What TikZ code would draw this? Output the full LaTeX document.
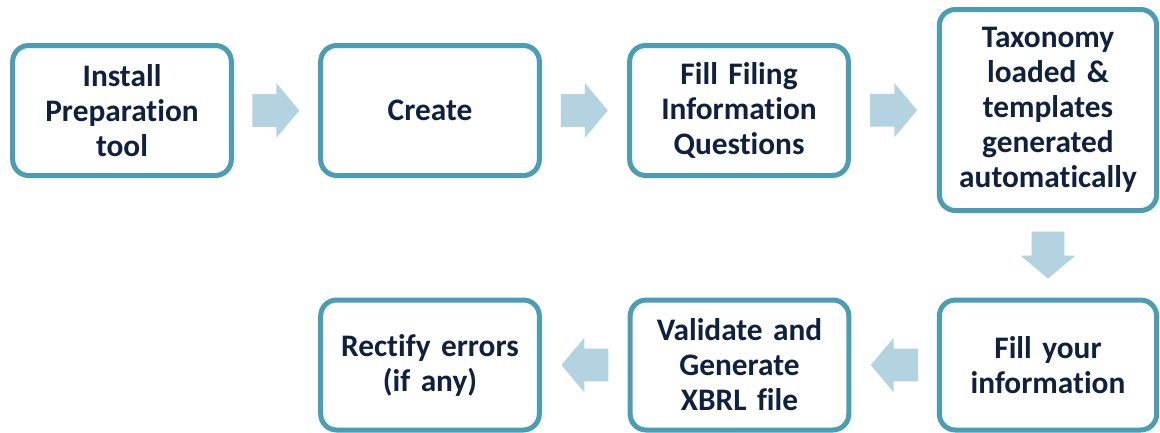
\documentclass[tikz,border=0pt]{standalone}
\usepackage{fontspec}
\setmainfont{Carlito}[Ligatures=NoCommon]
\usetikzlibrary{shapes.arrows,calc}
\definecolor{boxline}{HTML}{4A9DB5}
\definecolor{arrowfill}{HTML}{B2D3DF}
\definecolor{txt}{HTML}{10213F}
\tikzset{
  stepbox/.style={draw=boxline, line width=3.75pt, rounded corners=12pt, fill=white,
    minimum width=164pt, minimum height=97.5pt, inner sep=0pt, align=center,
    text width=160pt, text=txt, font=\bfseries\fontsize{23.5}{26.25}\selectfont},
  flowarrow/.style={single arrow, fill=arrowfill, draw=none, inner xsep=0pt, inner ysep=12pt,
    minimum height=35.25pt, single arrow head extend=8.25pt,
    single arrow tip angle=100, single arrow head indent=0pt}
}
\begin{document}
\begin{tikzpicture}[x=0.75pt,y=-0.75pt]
\useasboundingbox (0,0) rectangle (1160,432);
\node[stepbox] (b1) at (122,110.5) {Install\\Preparation\\tool};
\node[stepbox] (b2) at (430,110.5) {Create};
\node[stepbox] (b3) at (739,110.5) {Fill Filing\\Information\\Questions};
\node[stepbox, minimum width=163pt, minimum height=150.75pt] (b4) at (1048,110) {Taxonomy\\loaded \&\\templates\\generated\\automatically};
\node[stepbox, minimum width=163pt, minimum height=97.5pt] (b5) at (1048,365) {Fill your\\information};
\node[stepbox] (b6) at (739.5,365) {Validate and\\Generate\\XBRL file};
\node[stepbox] (b7) at (430,365) {Rectify errors\\(if any)};
\node[flowarrow] (a1) at ($(b1.east)!0.5!(b2.west)+(-7,0)$) {};
\node[flowarrow] (a2) at ($(b2.east)!0.5!(b3.west)+(-7,0)$) {};
\node[flowarrow] (a3) at ($(b3.east)!0.5!(b4.west)+(-7,0)$) {};
\node[flowarrow, rotate=-90] (a4) at ($(b4.south)!0.5!(b5.north)+(0,-7)$) {};
\node[flowarrow, shape border rotate=180] (a5) at ($(b5.west)!0.5!(b6.east)+(7,0)$) {};
\node[flowarrow, shape border rotate=180] (a6) at ($(b6.west)!0.5!(b7.east)+(7,0)$) {};
\end{tikzpicture}
\end{document}
